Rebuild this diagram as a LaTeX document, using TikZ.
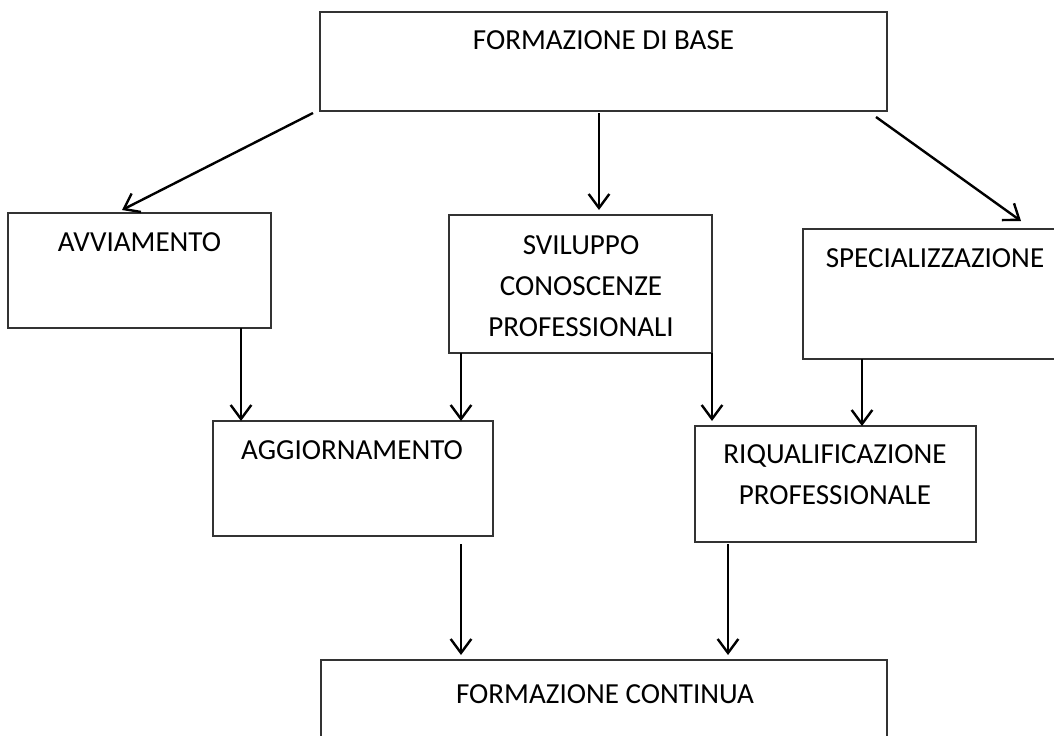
\documentclass[tikz,border=0pt]{standalone}
\usepackage{fontspec}
\setmainfont{Carlito}
\usetikzlibrary{arrows.meta,calc}

\tikzset{
  box/.style={draw=black!80, line width=1pt, inner sep=0pt, outer sep=0pt},
  lbl/.style={inner sep=0pt, outer sep=0pt, anchor=base, align=center,
              font=\fontsize{21.8pt}{30.75pt}\selectfont},
  arr/.style={draw=black, line width=1.8pt,
              -{Straight Barb[length=10.5pt, width=15.5pt, line width=1.8pt]}},
}

\begin{document}
\begin{tikzpicture}[x=0.75pt, y=-0.75pt]
  \useasboundingbox (0,0) rectangle (1054,736);
  \clip (0,0) rectangle (1054,736);

  % boxes
  \node[box, minimum width=425.25pt, minimum height=74.25pt] (base) at (603.5,61.5) {};
  \node[box, minimum width=197.25pt, minimum height=86.25pt] (avv)  at (139.5,270.5) {};
  \node[box, minimum width=197.25pt, minimum height=103.5pt] (svil) at (580.5,284) {};
  \node[box, minimum width=198pt,    minimum height=97.5pt]  (spec) at (935,294) {};
  \node[box, minimum width=210pt,    minimum height=86.25pt] (agg)  at (353,478.5) {};
  \node[box, minimum width=210.75pt, minimum height=87pt]    (riq)  at (835.5,484) {};
  \node[box, minimum width=424.5pt,  minimum height=75pt]    (cont) at (604,710) {};

  % labels (anchor=base sits on the last line of a multi-line label)
  \node[lbl] (tbase) at (603.5,49.3) {FORMAZIONE DI BASE};
  \node[lbl] (tavv)  at (139.5,251.8) {AVVIAMENTO};
  \node[lbl] (tsvil) at (581,336.5) {SVILUPPO\\CONOSCENZE\\PROFESSIONALI};
  \node[lbl] (tspec) at (935,267.3) {SPECIALIZZAZIONE};
  \node[lbl] (tagg)  at (352,459.8) {AGGIORNAMENTO};
  \node[lbl] (triq)  at (835,504) {RIQUALIFICAZIONE\\PROFESSIONALE};
  \node[lbl] (tcont) at (605,703) {FORMAZIONE CONTINUA};

  % connectors
  \draw[arr] ($(base.south west)+(-7,2)$) -- ($(avv.north west)+(114,-3)$);
  \coordinate (b1) at ($(base.south)+(-4.5,2)$);
  \draw[arr] (b1) -- ($(b1 |- svil.north)+(0,-5)$);
  \draw[arr] ($(base.south east)+(-11,6)$) -- ($(spec.north west)+(218,-8)$);

  \coordinate (a1) at ($(avv.south west)+(233,0)$);
  \draw[arr] (a1) -- (a1 |- agg.north);
  \coordinate (s1) at ($(svil.south west)+(12,0)$);
  \draw[arr] (s1) -- (s1 |- agg.north);
  \coordinate (s2) at (svil.south east);
  \draw[arr] (s2) -- ($(s2 |- riq.north)+(0,-5)$);
  \coordinate (p1) at ($(spec.south west)+(59,0)$);
  \draw[arr] (p1) -- (p1 |- riq.north);

  \coordinate (g1) at ($(agg.south west)+(248,8)$);
  \draw[arr] (g1) -- ($(g1 |- cont.north)+(0,-5)$);
  \coordinate (r1) at ($(riq.south west)+(33,2)$);
  \draw[arr] (r1) -- ($(r1 |- cont.north)+(0,-5)$);
\end{tikzpicture}
\end{document}
